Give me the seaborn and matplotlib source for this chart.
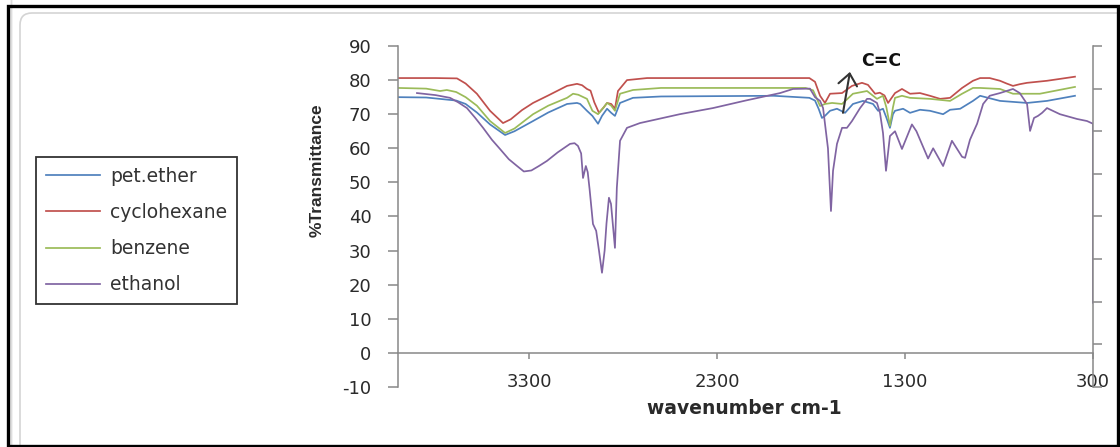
import numpy as np
import pandas as pd
import matplotlib
matplotlib.use("Agg")
import matplotlib.pyplot as plt
import seaborn as sns
from matplotlib.patches import Rectangle, FancyBboxPatch

# ---------------- data ----------------
series_names = ["pet.ether", "cyclohexane", "benzene", "ethanol"]
series_colors = ["#4F81BD", "#C0504D", "#9BBB59", "#8064A2"]

pet_wn = [4000, 3850, 3690, 3640, 3580, 3510, 3430, 3380, 3281, 3200, 3100, 3047, 3030,
          2994, 2965, 2935, 2914, 2887, 2865, 2845, 2818, 2749, 2600, 2000, 1810, 1780,
          1760, 1743, 1727, 1700, 1663, 1620, 1578, 1524, 1471, 1444, 1418, 1400, 1381,
          1365, 1354, 1311, 1274, 1221, 1168, 1098, 1061, 1007, 939, 901, 795, 651, 545, 396]
pet_t = [75.0, 74.9, 74.0, 73.0, 70.5, 67.0, 63.9, 65.0, 68.0, 70.5, 73.0, 73.3, 73.0,
         71.0, 69.5, 67.2, 69.5, 71.6, 70.4, 69.5, 73.3, 74.8, 75.2, 75.4, 74.8, 74.0,
         71.5, 68.9, 69.5, 71.0, 71.6, 70.4, 73.0, 73.9, 73.0, 71.0, 71.6, 69.0, 66.0,
         70.0, 71.0, 71.6, 70.4, 71.3, 71.0, 70.0, 71.3, 71.6, 73.9, 75.4, 73.9, 73.3, 73.9, 75.4]

cyc_wn = [4000, 3800, 3686, 3640, 3580, 3510, 3441, 3400, 3340, 3281, 3200, 3100, 3047,
          3020, 2994, 2975, 2955, 2930, 2905, 2887, 2865, 2845, 2829, 2781, 2674, 2300,
          1810, 1780, 1753, 1727, 1700, 1636, 1583, 1530, 1498, 1460, 1435, 1410, 1391,
          1354, 1317, 1274, 1221, 1168, 1114, 1061, 997, 939, 901, 850, 795, 760, 726,
          690, 651, 545, 470, 396]
cyc_t = [80.6, 80.6, 80.5, 79.0, 76.0, 71.0, 67.4, 68.5, 71.2, 73.3, 75.5, 78.3, 78.9,
         78.5, 77.4, 76.9, 73.5, 70.4, 72.0, 73.3, 73.0, 71.6, 76.8, 80.0, 80.6, 80.6,
         80.6, 79.5, 75.4, 73.3, 76.0, 76.2, 78.3, 79.2, 78.6, 76.0, 76.3, 75.5, 73.3,
         76.2, 77.4, 76.0, 76.2, 75.4, 74.5, 74.8, 77.7, 79.8, 80.6, 80.6, 79.8, 79.0, 78.3,
         78.8, 79.2, 79.8, 80.4, 81.0]

ben_wn = [4000, 3850, 3776, 3740, 3690, 3640, 3580, 3510, 3430, 3380, 3281, 3200, 3100,
          3068, 3040, 2994, 2965, 2935, 2905, 2887, 2865, 2845, 2818, 2749, 2600, 1830,
          1790, 1753, 1727, 1689, 1636, 1578, 1503, 1450, 1418, 1400, 1381, 1365, 1354,
          1317, 1274, 1168, 1061, 997, 939, 901, 795, 726, 583, 396]
ben_t = [77.7, 77.5, 76.8, 77.1, 76.5, 75.0, 72.5, 68.0, 64.5, 65.8, 70.0, 72.5, 74.8,
         76.0, 75.7, 74.5, 71.0, 70.0, 72.0, 73.3, 72.5, 71.0, 76.0, 77.1, 77.7, 77.7,
         77.0, 72.4, 73.0, 73.3, 73.0, 76.0, 76.8, 74.5, 75.4, 72.0, 66.6, 72.0, 74.8,
         75.4, 74.8, 74.5, 73.9, 76.0, 77.7, 77.7, 77.4, 76.0, 76.0, 78.0]

eth_wn = [3899, 3800, 3723, 3680, 3633, 3590, 3547, 3500, 3457, 3410, 3366, 3330, 3290,
          3250, 3207, 3150, 3084, 3060, 3042, 3025, 3015, 3000, 2990, 2980, 2962, 2945,
          2930, 2914, 2900, 2890, 2877, 2866, 2845, 2835, 2818, 2781, 2712, 2500, 2323,
          2150, 1966, 1897, 1807, 1780, 1753, 1737, 1711, 1695, 1684, 1663, 1636, 1610,
          1583, 1540, 1503, 1487, 1450, 1434, 1418, 1402, 1381, 1354, 1317, 1264, 1240,
          1178, 1151, 1098, 1051, 997, 981, 955, 939, 917, 885, 850, 795, 726, 690, 651,
          635, 614, 593, 571, 545, 476, 385, 332, 300, 300]
eth_t = [76.2, 75.6, 74.8, 73.5, 71.8, 69.0, 66.0, 62.5, 59.8, 56.8, 54.8, 53.2, 53.5,
         54.8, 56.3, 58.8, 61.3, 61.5, 60.7, 58.5, 51.3, 54.8, 53.0, 48.0, 37.8, 35.8,
         30.0, 23.5, 30.0, 38.0, 45.5, 43.7, 30.8, 48.4, 62.2, 66.0, 67.4, 70.0, 71.8,
         74.0, 76.2, 77.4, 77.5, 75.0, 73.9, 71.8, 60.0, 41.6, 53.4, 61.3, 66.0, 66.0,
         68.0, 71.8, 74.5, 74.5, 73.3, 70.4, 64.5, 53.4, 63.6, 65.0, 59.8, 67.0, 65.0,
         57.0, 60.0, 54.8, 62.2, 57.5, 57.2, 62.5, 64.5, 67.2, 73.0, 75.4, 76.2, 77.4, 76.2, 73.0,
         65.1, 68.9, 69.5, 70.4, 71.8, 70.0, 68.6, 68.0, 67.2, 14.7]

x_ticks = [3300, 2300, 1300, 300]
y_ticks = list(range(-10, 91, 10))
x_label = "wavenumber cm-1"
y_label = "%Transmittance"
note_text = "C=C"

# ---------------- figure ----------------
plt.rcParams["font.family"] = ["DejaVu Sans"]
plt.rcParams["axes.unicode_minus"] = False
W, H = 1120, 447
fig = plt.figure(figsize=(W / 100, H / 100), dpi=100)
fig.patch.set_facecolor("white")

# chart-area decorations (Excel style frame)
fig.patches.append(FancyBboxPatch((0.20, -1.0), 12.0, (H - 13) / 100 + 1.0,
                                  boxstyle="round,pad=0,rounding_size=0.12",
                                  transform=fig.dpi_scale_trans, fill=False,
                                  edgecolor="#d4d4d4", lw=1.2, zorder=0))
fig.patches.append(Rectangle((0.105, -1.0), 0.0, 5.5, transform=fig.dpi_scale_trans,
                             fill=False, edgecolor="#dddddd", lw=1.0, zorder=0))
fig.patches.append(Rectangle((7.5 / W, 1 - 445.5 / H), (1117.5 - 7.5) / W, (445.5 - 6) / H,
                             transform=fig.transFigure, fill=False,
                             edgecolor="black", lw=2.4, zorder=0))

ax = fig.add_axes([398 / W, 1 - 387 / H, 695 / W, 341 / H])
ax.set_facecolor("none")

data = [(pet_wn, pet_t), (cyc_wn, cyc_t), (ben_wn, ben_t), (eth_wn, eth_t)]
for (wn, t), name, col in zip(data, series_names, series_colors):
    df = pd.DataFrame({"wavenumber": wn, "T": t})
    sns.lineplot(data=df, x="wavenumber", y="T", ax=ax, color=col, lw=1.25,
                 sort=False, estimator=None, label=name, legend=False)

ax.set_xlim(4000, 300)
ax.set_ylim(-10, 90)
ax.set_xticks(x_ticks)
ax.set_yticks(y_ticks)

axis_col = "#888888"
for s in ["top", "right"]:
    ax.spines[s].set_visible(False)
ax.spines["bottom"].set_position(("data", 0))
for s in ["left", "bottom"]:
    ax.spines[s].set_color(axis_col)
    ax.spines[s].set_linewidth(1.1)

ax.tick_params(axis="y", direction="out", length=7, width=1.1, color=axis_col,
               pad=12, labelsize=13, labelcolor="#2a2a2a", left=True)
ax.tick_params(axis="x", direction="out", length=4.5, width=1.1, color=axis_col,
               pad=10, labelsize=13, labelcolor="#2a2a2a", bottom=True)

ax.set_xlabel(x_label, fontsize=13.5, fontweight="bold", color="#2a2a2a")
ax.xaxis.set_label_coords(0.499, -0.0645)
ax.xaxis.label.set_va("center")
ax.set_ylabel(y_label, fontsize=12.5, fontweight="bold", color="#2a2a2a",
              family=["Liberation Sans", "DejaVu Sans"])
ax.yaxis.set_label_coords(-0.117, 0.636)
ax.yaxis.label.set_va("center")

# secondary (unlabeled) right axis
ax2 = ax.twinx()
ax2.set_ylim(-10, 90)
ax2.set_yticks(np.arange(-10, 90.1, 12.5))
ax2.set_yticklabels([])
for s in ["top", "left", "bottom"]:
    ax2.spines[s].set_visible(False)
ax2.spines["right"].set_color(axis_col)
ax2.spines["right"].set_linewidth(1.1)
ax2.tick_params(axis="y", direction="out", length=6.5, width=1.1, color=axis_col, right=True)

# annotation
ax.annotate("", xy=(1594, 82.4), xytext=(1631, 70.4),
            arrowprops=dict(arrowstyle="->,head_length=0.55,head_width=0.45",
                            color="#333333", lw=1.5, mutation_scale=15,
                            shrinkA=0, shrinkB=0))
ax.text(1532, 85.6, note_text, fontsize=12.5, fontweight="bold", color="#111111",
        ha="left", va="center")

# legend
handles = ax.lines[:4]
leg = fig.legend(handles, series_names, loc="upper left",
                 bbox_to_anchor=(36 / W, 1 - 157 / H), borderaxespad=0,
                 fontsize=13.5, frameon=True, fancybox=False, edgecolor="black",
                 handlelength=2.9, handletextpad=0.55, labelspacing=0.92,
                 borderpad=0.51, labelcolor="#333333")
leg.get_frame().set_linewidth(1.3)

fig.savefig("out.png", dpi=100, facecolor="white")
